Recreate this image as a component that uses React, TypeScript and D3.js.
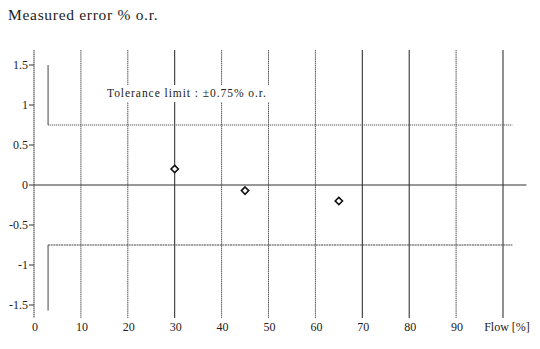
import React from 'react';
import * as d3 from 'd3';

// flow [%] vs measured error [% o.r.]
const flowPoints = [30, 45, 65];
const errorPoints = [0.2, -0.07, -0.2];
const xTicks = [0, 10, 20, 30, 40, 50, 60, 70, 80, 90];
const gridFlows = [10, 20, 30, 40, 50, 60, 70, 80, 90, 100];
const yTicks = [1.5, 1, 0.5, 0, -0.5, -1, -1.5];
const yTickLabels = ['1.5', '1', '0.5', '0', '-0.5', '-1', '-1.5'];
const tolerance = 0.75;
const toleranceStart = 3;
const toleranceEnd = 102;
const zeroLineEnd = 105;
// darker (solid) grid lines in the scan
const solidGrid = [30, 70, 80, 100];

const W = 540;
const H = 349;
const font = "'Liberation Serif', 'DejaVu Serif', 'Times New Roman', serif";

export default function App() {
  const x = d3.scaleLinear().domain([0, 100]).range([34, 503]);
  const y = d3.scaleLinear().domain([-1.5, 1.5]).range([305, 65]);
  const top = y(1.5) - 15;
  const bottom = y(-1.5) + 13;

  const diamond = d3.symbol().type(d3.symbolDiamond2).size(34)();
  const txt = { fontFamily: font, fill: '#222' };

  return (
    <svg width={W} height={H} style={{ position: 'absolute', left: 0, top: 0, background: '#fff' }}>
      <rect width={W} height={H} fill="#fff" />
      <text x={8} y={20} style={{ ...txt, fontSize: 15.5, letterSpacing: 0.7 }}>Measured error % o.r.</text>

      {/* vertical grid lines */}
      {gridFlows.map(f => (
        <line key={f} x1={x(f)} x2={x(f)} y1={top} y2={bottom}
          stroke={solidGrid.includes(f) ? '#222' : '#555'}
          strokeWidth={1}
          strokeDasharray={solidGrid.includes(f) ? undefined : '1.5,0.6'} />
      ))}

      {/* y axis */}
      <line x1={x(0)} x2={x(0)} y1={top} y2={bottom} stroke="#333" strokeDasharray="1.5,0.5" />
      {yTicks.map((t, i) => (
        <g key={t}>
          <line x1={x(0) - 5} x2={x(0)} y1={y(t)} y2={y(t)} stroke="#333" />
          <text x={x(0) - 6} y={y(t) + 4} textAnchor="end" style={{ ...txt, fontSize: 12 }}>{yTickLabels[i]}</text>
        </g>
      ))}

      {/* zero line */}
      <line x1={x(0)} x2={x(zeroLineEnd)} y1={y(0)} y2={y(0)} stroke="#333" strokeWidth={1.1} />

      {/* tolerance limits */}
      <line x1={x(toleranceStart)} x2={x(toleranceEnd)} y1={y(tolerance)} y2={y(tolerance)} stroke="#555" strokeDasharray="1.2,0.8" />
      <line x1={x(toleranceStart)} x2={x(toleranceEnd)} y1={y(-tolerance)} y2={y(-tolerance)} stroke="#444" strokeDasharray="2,0.6" />
      <line x1={x(toleranceStart)} x2={x(toleranceStart)} y1={y(1.5)} y2={y(tolerance)} stroke="#444" />
      <line x1={x(toleranceStart)} x2={x(toleranceStart)} y1={y(-tolerance)} y2={y(-1.57)} stroke="#444" />

      {/* label with paper background */}
      <rect x={104} y={85} width={168} height={17} fill="#fff" />
      <text x={107} y={97} style={{ ...txt, fontSize: 11.5, letterSpacing: 0.95 }}>Tolerance limit  : ±0.75% o.r.</text>

      {/* x tick labels */}
      {xTicks.map(t => (
        <text key={t} x={x(t) + 1} y={331} textAnchor="middle" style={{ ...txt, fontSize: 12 }}>{t}</text>
      ))}
      <text x={507} y={331} textAnchor="middle" style={{ ...txt, fontSize: 12 }}>Flow [%]</text>

      {/* measured points */}
      {flowPoints.map((f, i) => (
        <path key={f} d={diamond} transform={`translate(${x(f)},${y(errorPoints[i])})`}
          fill="#fff" stroke="#111" strokeWidth={1.6} />
      ))}
    </svg>
  );
}
